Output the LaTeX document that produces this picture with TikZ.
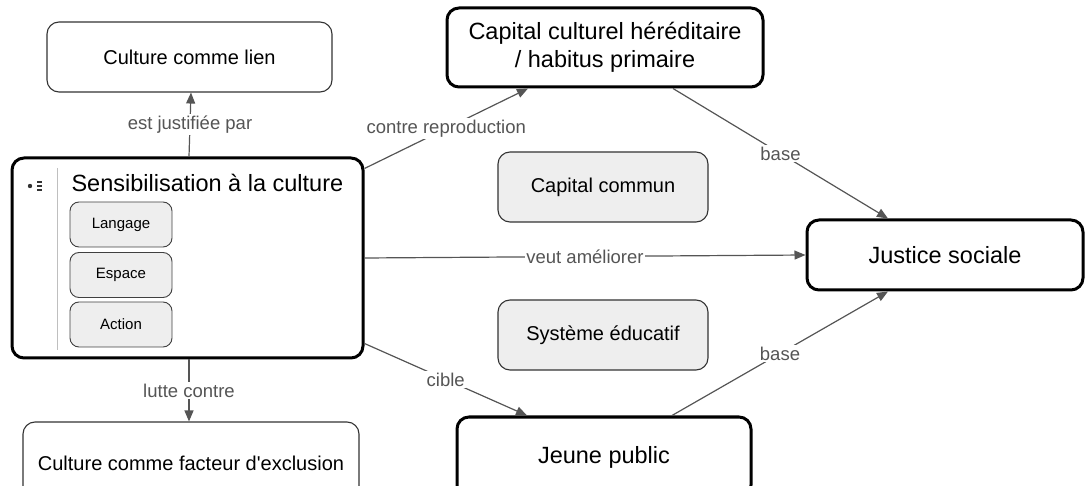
\documentclass[tikz,border=0pt]{standalone}
\usepackage{fontspec}
\setmainfont{Liberation Sans}[Ligatures=TeXOff]
\usetikzlibrary{arrows.meta}
\definecolor{edgegray}{HTML}{555555}
\definecolor{boxgray}{HTML}{EEEEEE}

\begin{document}
\begin{tikzpicture}[x=1pt, y=-1pt,
    box/.style={draw=black!80, line width=1.1pt, rounded corners=12pt, align=center,
        font=\fontsize{20}{24}\selectfont},
    bigbox/.style={box, draw=black, line width=3pt, font=\fontsize{23.5}{28}\selectfont},
    greybox/.style={box, fill=boxgray},
    subbox/.style={draw=black!75, line width=0.9pt, fill=boxgray, rounded corners=9pt,
        minimum width=102pt, minimum height=45pt, font=\fontsize{15}{18}\selectfont},
    link/.style={draw=edgegray, line width=1.2pt, -{Triangle[length=11pt,width=9pt]}},
    lbl/.style={fill=white, text=edgegray, inner sep=1.5pt, font=\fontsize{18.5}{22}\selectfont}]

    \useasboundingbox (0,0) rectangle (1085,486);

    % main concept with its sub-concepts
        \node[bigbox, minimum width=351pt, minimum height=200pt] (sensib) at (187.5,258) {};
        \node[anchor=west, font=\fontsize{23.5}{28}\selectfont] (titre) at (68,183) {Sensibilisation à la culture};
        \draw[black!25, line width=1pt] (57,168) -- (57,350);
        \fill[black!80] (30,186) circle (2.2);
        \foreach \y in {182,186,190}
            \draw[black!80, line width=1.8pt] (37,\y) -- (42,\y);
        \node[subbox] (lang) at (121,224.5) {Langage};
        \node[subbox] (esp) at (121,275) {Espace};
        \node[subbox] (act) at (121,324.5) {Action};

    % other concepts
        \node[box, minimum width=285pt, minimum height=70pt] (lien) at (189.5,57) {Culture comme lien};
        \node[box, minimum width=336pt, minimum height=82pt] (excl) at (191,463) {Culture comme facteur d'exclusion};
        \node[bigbox, minimum width=316pt, minimum height=79pt] (cap) at (605,47.5) {Capital culturel héréditaire\\/ habitus primaire};
        \node[greybox, minimum width=210pt, minimum height=70pt] (commun) at (603,187) {Capital commun};
        \node[greybox, minimum width=210pt, minimum height=70pt] (educ) at (603,335) {Système éducatif};
        \node[bigbox, minimum width=276pt, minimum height=70pt] (just) at (945,255) {Justice sociale};
        \node[bigbox, minimum width=294pt, minimum height=80pt] (jeune) at (604,457) {Jeune public};

    % links
        \draw[link] ([xshift=1.5pt]sensib.north) -- node[lbl] {est justifiée par} ([xshift=1.5pt]lien.south);
        \draw[link] ([xshift=1.5pt]sensib.south) -- node[lbl] {lutte contre} ([xshift=-2pt]excl.north);
        \draw[link] ([yshift=-12pt]sensib.north east) -- node[lbl] {contre reproduction} ([xshift=-77pt]cap.south);
        \draw[link] (sensib.east) -- node[lbl] {veut améliorer} (just.west);
        \draw[link] ([yshift=16pt]sensib.south east) -- node[lbl] {cible} ([xshift=-77pt]jeune.north);
        \draw[link] ([xshift=68pt]cap.south) -- node[lbl] {base} ([xshift=-57pt]just.north);
        \draw[link] ([xshift=68pt]jeune.north) -- node[lbl] {base} ([xshift=-57pt]just.south);

\end{tikzpicture}
\end{document}
